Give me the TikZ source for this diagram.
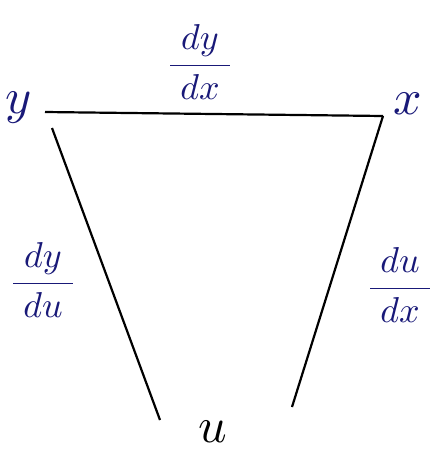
\documentclass[tikz,border=0pt]{standalone}
\usepackage{amsmath}
\usepackage{graphicx}
\newcommand{\bigfrac}[2]{\scalebox{3.6}{$\dfrac{\;#1\;}{\;#2\;}$}}
\newcommand{\bigvar}[1]{\scalebox{5}{$#1$}}
\begin{document}
\begin{tikzpicture}[x=1pt,y=-1pt,
  edge/.style={line width=2.2pt, black},
  lbl/.style={text=penblue, inner sep=0pt},
  vert/.style={text=penblue, inner sep=0pt}]
\definecolor{penblue}{RGB}{25,25,120}
\useasboundingbox (0,0) rectangle (439,456);
\node[vert] (y) at (19,108) {\bigvar{y}};
\node[vert] (x) at (408,104) {\bigvar{x}};
\node[vert, text=black] (u) at (213,432) {\bigvar{u}};
\coordinate (yR) at (45,112);
\coordinate (xL) at (383,116);
\coordinate (yB) at (52,128);
\coordinate (uL) at (160,420);
\coordinate (uR) at (292,407);
\draw[edge] (yR) -- (xL);
\draw[edge] (yB) -- (uL);
\draw[edge] (xL) -- (uR);
\node[lbl] (dydx) at (200,62) {\bigfrac{dy}{dx}};
\node[lbl] (dydu) at (43,280) {\bigfrac{dy}{du}};
\node[lbl] (dudx) at (400,285) {\bigfrac{du}{dx}};
\end{tikzpicture}
\end{document}
